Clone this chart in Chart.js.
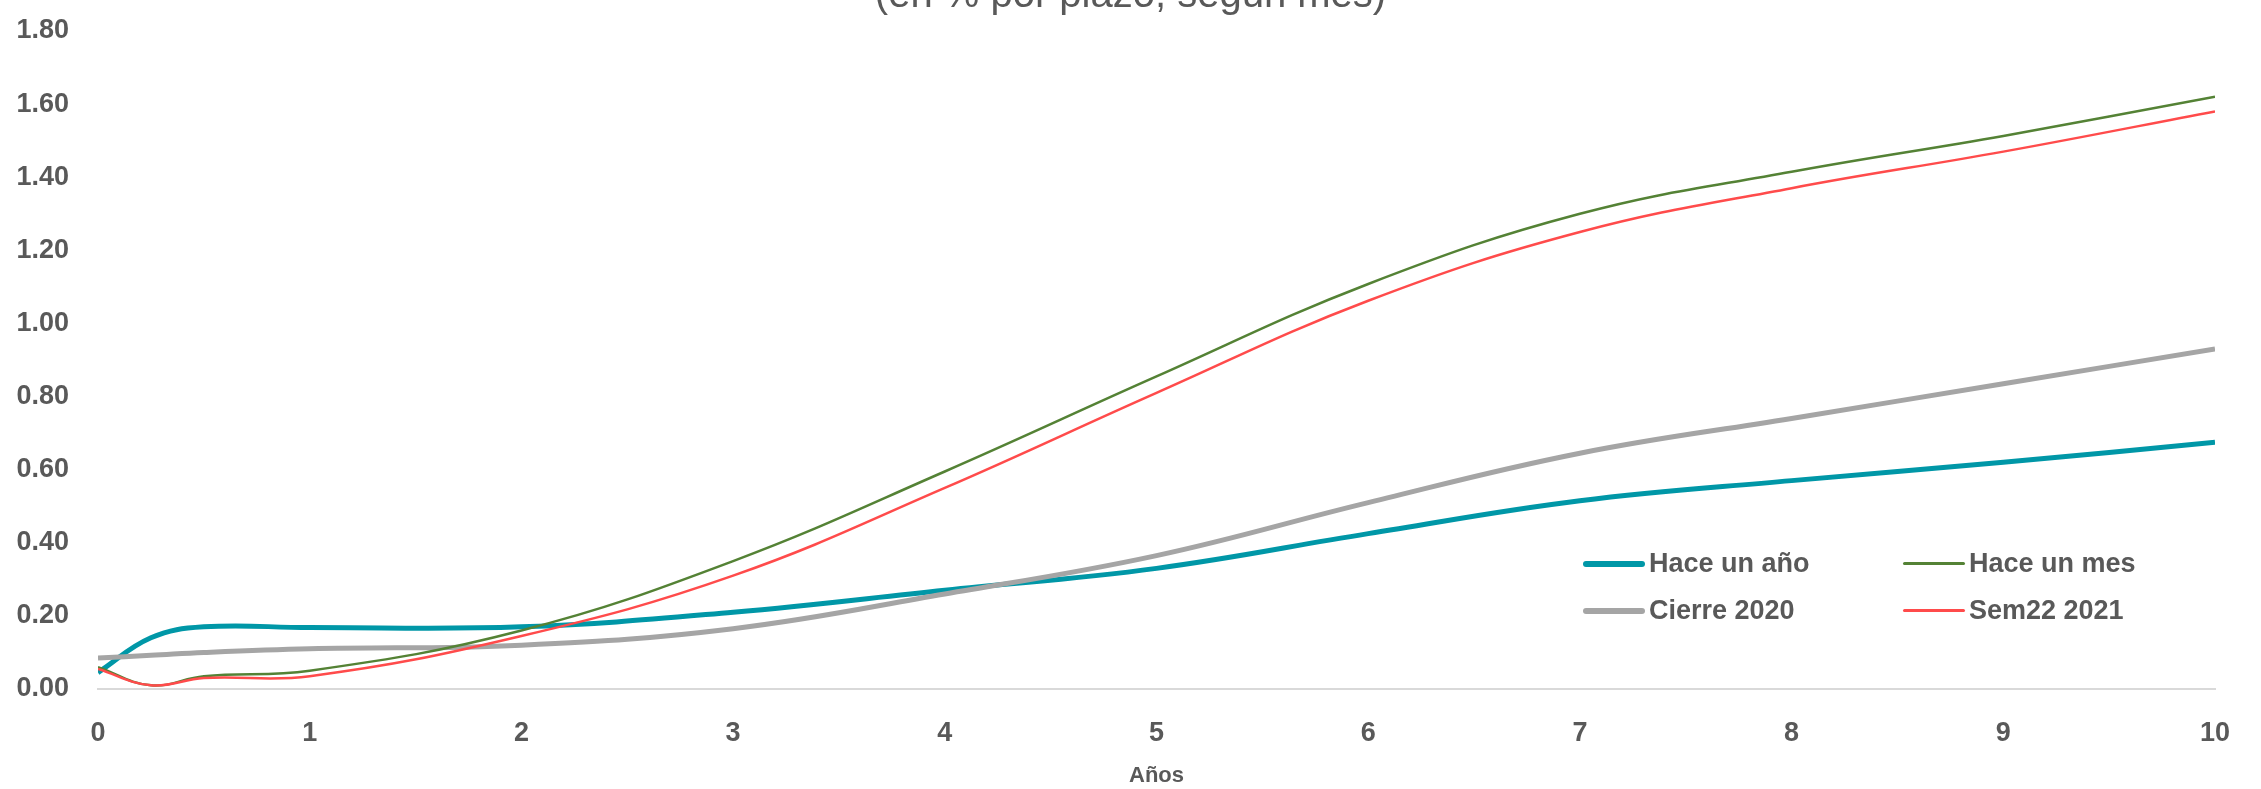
<!DOCTYPE html>
<html>
<head>
<meta charset="utf-8">
<script src="https://cdn.jsdelivr.net/npm/chart.js@4.4.1/dist/chart.umd.min.js"></script>
<style>
  html, body { margin: 0; padding: 0; background: #fff; overflow: hidden; }
  #wrap { position: relative; width: 2261px; height: 789px; }
  #titulo {
    position: absolute; left: 0; width: 2261px; top: -29px; text-align: center;
    font-family: "Liberation Sans Narrow", "Liberation Sans", sans-serif;
    font-size: 40px; color: #595959;
  }
  #leyenda {
    position: absolute; left: 1583px; top: 548px; width: 640px;
    display: grid; grid-template-columns: 320px 320px; row-gap: 16px;
    font-family: "Liberation Sans", sans-serif; font-weight: bold;
    font-size: 27px; color: #595959;
  }
  .item { display: flex; align-items: center; }
  .muestra { width: 62px; border-radius: 3px; margin-right: 4px; }
</style>
</head>
<body>
<div id="wrap">
  <canvas id="curva" width="2261" height="789"></canvas>
  <div id="titulo">(en % por plazo, según mes)</div>
  <div id="leyenda"></div>
</div>
<script>
// plazos en años
const plazos = [0, 0.25, 0.5, 1, 2, 3, 4, 5, 6, 7, 8, 9, 10];

// tasas por curva (en %)
const haceUnAnio = [0.045, 0.14, 0.17, 0.168, 0.17, 0.21, 0.27, 0.33, 0.425, 0.515, 0.57, 0.62, 0.675];
const haceUnMes  = [0.06, 0.01, 0.035, 0.05, 0.16, 0.35, 0.595, 0.855, 1.108, 1.30, 1.415, 1.513, 1.62];
const cierre2020 = [0.085, 0.092, 0.10, 0.11, 0.12, 0.165, 0.26, 0.365, 0.51, 0.645, 0.74, 0.835, 0.93];
const sem22      = [0.055, 0.01, 0.03, 0.035, 0.145, 0.31, 0.55, 0.81, 1.062, 1.25, 1.37, 1.47, 1.58];

const series = [
    { label: 'Hace un año', valores: haceUnAnio, color: '#0097A7', ancho: 5 },
    { label: 'Hace un mes', valores: haceUnMes, color: '#548235', ancho: 2.5 },
    { label: 'Cierre 2020', valores: cierre2020, color: '#A5A5A5', ancho: 5 },
    { label: 'Sem22 2021', valores: sem22, color: '#FF4B4B', ancho: 2.5 }
];

// orden de dibujo: las gruesas primero
const ordenDibujo = { 'Hace un año': 3, 'Cierre 2020': 2, 'Hace un mes': 1, 'Sem22 2021': 0 };

const fuente = { family: '"Liberation Sans", sans-serif', weight: 'bold', size: 27 };

new Chart(document.getElementById('curva'), {
    type: 'scatter',
    data: {
        datasets: series.map(s => ({
            label: s.label,
            data: plazos.map((p, i) => ({ x: p, y: s.valores[i] })),
            showLine: true,
            borderColor: s.color,
            backgroundColor: s.color,
            borderWidth: s.ancho,
            pointRadius: 0,
            tension: 0.4,
            order: ordenDibujo[s.label]
        }))
    },
    options: {
        responsive: false,
        animation: false,
        layout: { padding: { top: 31, right: 46, left: 0, bottom: 0 } },
        plugins: { legend: { display: false }, tooltip: { enabled: false } },
        scales: {
            x: {
                type: 'linear', min: 0, max: 10,
                ticks: { stepSize: 1, color: '#595959', font: fuente, padding: 28 },
                grid: { display: false, drawTicks: false },
                border: { color: '#D9D9D9', width: 2 },
                title: { display: true, text: 'Años', color: '#595959', font: { family: fuente.family, weight: 'bold', size: 22 }, padding: { top: 0, bottom: 0 } },
                afterFit: s => { s.height = 100; }
            },
            y: {
                min: 0, max: 1.8,
                ticks: { stepSize: 0.2, color: '#595959', font: fuente, padding: 29, callback: v => v.toFixed(2) },
                grid: { display: false, drawTicks: false },
                border: { display: false },
                afterFit: s => { s.width = 98; s.paddingTop = 13; s.paddingBottom = 13; }
            }
        }
    }
});

// leyenda en html
const leyenda = document.getElementById('leyenda');
series.forEach(s => {
    const item = document.createElement('div');
    item.className = 'item';
    item.innerHTML = `<span class="muestra" style="height:${s.ancho + 1}px;background:${s.color}"></span>${s.label}`;
    leyenda.appendChild(item);
});
</script>
</body>
</html>
